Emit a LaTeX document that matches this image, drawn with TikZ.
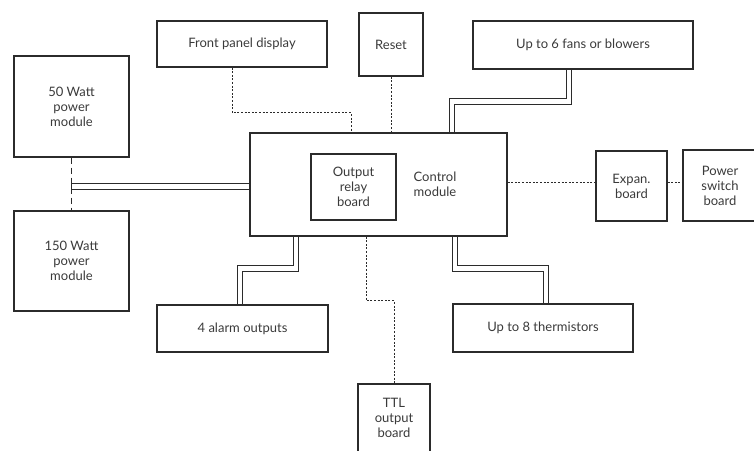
\documentclass[tikz,border=0pt]{standalone}
\usepackage{fontspec}
\setmainfont{Lato}
\usetikzlibrary{backgrounds}
\definecolor{ink}{HTML}{2B2B2B}
\definecolor{txt}{HTML}{3A3A3A}
\tikzset{
  box/.style={draw=ink, line width=1.1pt, inner sep=0pt, align=center, text=txt,
    font=\fontsize{13}{15}\selectfont},
  dotline/.style={draw=ink, line width=1pt, dash pattern=on 2pt off 1.6pt},
  dashline/.style={draw=ink, line width=1pt, dash pattern=on 6pt off 4pt},
  dbl/.style={draw=ink, line width=1.1pt, double=white, double distance=4.2pt},
  solidline/.style={draw=ink, line width=1.1pt},
}
\begin{document}
\begin{tikzpicture}[x=1pt,y=-1pt]
\useasboundingbox (0,0) rectangle (754,450);
\node[box, minimum width=170pt, minimum height=46pt] (fp) at (242,44) {Front panel display};
\node[box, minimum width=64pt, minimum height=63pt] (reset) at (391,44.5) {Reset};
\node[box, minimum width=220pt, minimum height=48pt] (fans) at (583,45) {Up to 6 fans or blowers};
\node[box, minimum width=115pt, minimum height=101pt] (p50) at (71.5,106.5) {50 Watt\\power\\module};
\node[box, minimum width=115pt, minimum height=100pt] (p150) at (71.5,261) {150 Watt\\power\\module};
\node[box, minimum width=257pt, minimum height=103pt] (ctrl) at (378.5,184.5) {};
\node[box, minimum width=85pt, minimum height=66pt] (relay) at (353.5,187) {Output\\relay\\board};
\node[box, draw=none] (ctrltxt) at (435,184.5) {Control\\module};
\node[box, minimum width=71pt, minimum height=70pt] (expan) at (631.5,186) {Expan.\\board};
\node[box, minimum width=74pt, minimum height=71pt] (psw) at (720,185.5) {Power\\switch\\board};
\node[box, minimum width=171pt, minimum height=47pt] (alarm) at (242.5,328.5) {4 alarm outputs};
\node[box, minimum width=180pt, minimum height=48pt] (therm) at (543,328) {Up to 8 thermistors};
\node[box, minimum width=72pt, minimum height=68pt] (ttl) at (394,418) {TTL\\output\\board};
\coordinate (cw) at ([yshift=-2pt]ctrl.west);
\coordinate (ce) at ([yshift=2.5pt]ctrl.east);
\coordinate (pj) at (p50.south |- cw);
\begin{scope}[on background layer]
  \draw[dotline] ([xshift=-10pt]fp.south) -- ++(0,45) -| ([xshift=-27.5pt]ctrl.north);
  \draw[dotline] (reset.south) -- (reset.south |- ctrl.north);
  \draw[dbl] ([xshift=-14pt]fans.south) -- ++(0,32) -| ([xshift=73.5pt]ctrl.north);
  \draw[dashline] (p50.south) -- (p150.north);
  \draw[dbl] (cw) -- (pj);
  \draw[solidline] ([yshift=4.5pt]pj) -- ([yshift=-4.5pt]pj);
  \draw[dbl] ([xshift=-82.5pt]ctrl.south) -- ++(0,32) -| ([xshift=-2.5pt]alarm.north);
  \draw[dbl] ([xshift=76.5pt]ctrl.south) -- ++(0,32) -| ([xshift=3pt]therm.north);
  \draw[dotline] ([xshift=-12.5pt]ctrl.south) -- ++(0,64) -| (ttl.north);
  \draw[dotline] (ce) -- (ce -| expan.west);
  \draw[dotline] (ce -| expan.east) -- (ce -| psw.west);
\end{scope}
\end{tikzpicture}
\end{document}
